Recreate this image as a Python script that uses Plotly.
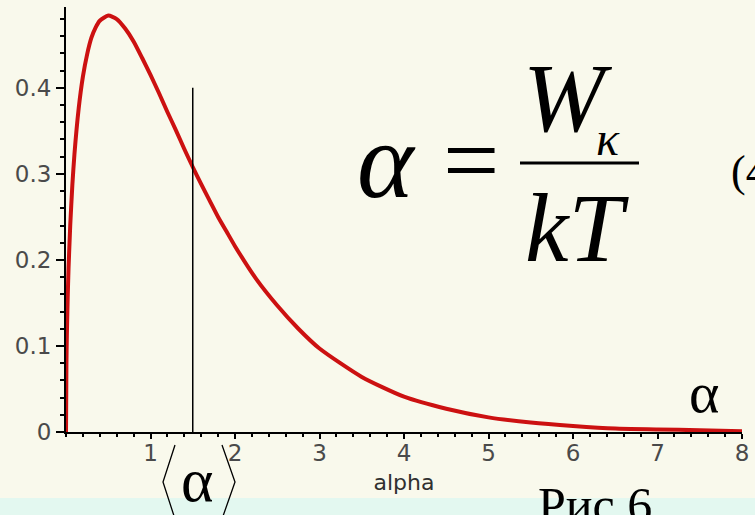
import plotly.graph_objects as go

# Energy distribution curve f(alpha)
alpha = [0, 0.005, 0.01, 0.02, 0.03, 0.05, 0.075, 0.1, 0.15, 0.2, 0.25, 0.3,
         0.35, 0.4, 0.5, 0.6, 0.7, 0.8, 0.9, 1.0, 1.1, 1.2, 1.3, 1.4, 1.5,
         1.6, 1.7, 1.8, 1.9, 2.0, 2.25, 2.5, 2.75, 3.0, 3.5, 4.0, 4.5, 5.0,
         5.5, 6.0, 6.5, 7.0, 7.5, 8.0]
f_alpha = [0, 0.079, 0.112, 0.156, 0.190, 0.240, 0.287, 0.323, 0.376, 0.413,
           0.439, 0.458, 0.470, 0.478, 0.484, 0.480, 0.469, 0.454, 0.435,
           0.415, 0.394, 0.372, 0.351, 0.329, 0.308, 0.288, 0.269, 0.250,
           0.233, 0.216, 0.178, 0.147, 0.120, 0.097, 0.064, 0.041, 0.027,
           0.017, 0.011, 0.007, 0.004, 0.003, 0.002, 0.001]

# Mean value marker <alpha>
mean_alpha = 1.5
mean_line_top = 0.40

x_ticks = [1, 2, 3, 4, 5, 6, 7, 8]
y_ticks = [0, 0.1, 0.2, 0.3, 0.4]

W, H = 755, 515
L, R, T, B = 66, 13, 7, 83
PW, PH = W - L - R, H - T - B


def px(x):
    return (x - L) / PW


def py(y):
    return (H - B - y) / PH


bg = "#f9f9ec"
band = "#e3f8f0"

fig = go.Figure()
fig.add_trace(go.Scatter(
    x=alpha, y=f_alpha, mode="lines",
    line=dict(color="#cc1111", width=4, shape="spline", smoothing=0.6),
    hoverinfo="skip", showlegend=False, cliponaxis=False,
))
fig.add_trace(go.Scatter(
    x=[mean_alpha, mean_alpha], y=[0, mean_line_top], mode="lines",
    line=dict(color="black", width=1.5),
    hoverinfo="skip", showlegend=False,
))

tick_font = dict(family="DejaVu Sans", size=23, color="#4a4a4a")

fig.update_layout(
    width=W, height=H,
    margin=dict(l=L, r=R, t=T, b=B),
    paper_bgcolor=bg, plot_bgcolor=bg,
    xaxis=dict(
        range=[0, 8], tickvals=x_ticks, ticktext=[str(v) for v in x_ticks],
        showline=True, linecolor="black", linewidth=2,
        ticks="outside", ticklen=5, tickwidth=1.5, tickcolor="black",
        ticklabelstandoff=-6,
        minor=dict(dtick=0.2, tick0=0, ticks="outside", ticklen=3,
                   tickwidth=1.5, tickcolor="black"),
        showgrid=False, zeroline=False, tickfont=tick_font,
        title=dict(text="alpha", font=dict(family="DejaVu Sans", size=22,
                                            color="#303030"), standoff=10),
        fixedrange=True,
    ),
    yaxis=dict(
        range=[0, 0.494], tickvals=y_ticks,
        ticktext=["0", "0.1", "0.2", "0.3", "0.4"],
        showline=True, linecolor="black", linewidth=2,
        ticks="outside", ticklen=8, tickwidth=1.5, tickcolor="black",
        minor=dict(dtick=0.02, tick0=0, ticks="outside", ticklen=4,
                   tickwidth=1.5, tickcolor="black"),
        showgrid=False, zeroline=False, tickfont=tick_font,
        fixedrange=True,
    ),
)

# light band along the bottom edge
fig.add_shape(type="rect", xref="paper", yref="paper",
              x0=px(0), x1=px(W), y0=py(498), y1=py(H + 2),
              fillcolor=band, line=dict(width=0), layer="below")

serif = "Liberation Serif"


def note(text, x, y, size, xanchor="center", yanchor="middle", italic=False,
         family=serif):
    fig.add_annotation(
        text=f"<i>{text}</i>" if italic else text,
        xref="paper", yref="paper", x=px(x), y=py(y),
        xanchor=xanchor, yanchor=yanchor, showarrow=False,
        font=dict(family=family, size=size, color="black"),
    )


def bracket(points):
    path = "M " + " L ".join(f"{px(a)} {py(b)}" for a, b in points)
    fig.add_shape(type="path", xref="paper", yref="paper", path=path,
                  line=dict(color="black", width=1.3))


# formula alpha = W_k / kT
note("α", 386, 160, 108, italic=True)
note("=", 471, 160, 100)
note("W", 568, 98, 98, italic=True)
note("κ", 608, 138, 48, italic=True)
fig.add_shape(type="line", xref="paper", yref="paper",
              x0=px(520), x1=px(639), y0=py(163), y1=py(163),
              line=dict(color="black", width=3))
note("kT", 577, 228, 98, italic=True)
note("(4", 729, 172, 44, xanchor="left")

# axis symbol and mean label <alpha>
note("α", 704, 392, 58)
note("α", 197, 480, 62)
bracket([(175, 445), (163, 482), (175, 519)])
bracket([(222, 445), (235, 482), (222, 519)])
note("Рис.6", 595, 505, 50)

fig.write_html("out.html")
